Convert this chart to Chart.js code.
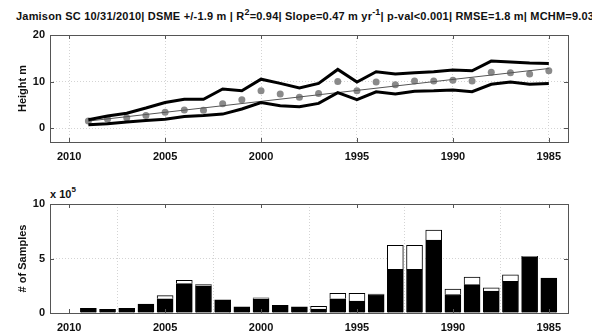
<!DOCTYPE html>
<html>
<head>
<meta charset="utf-8">
<script src="https://cdn.jsdelivr.net/npm/chart.js@4/dist/chart.umd.min.js"></script>
<style>
  body { margin: 0; background: #fff; width: 592px; height: 332px; overflow: hidden; position: relative; font-family: "Liberation Sans", Arial, sans-serif; }
  #title { position: absolute; left: 16px; top: 10px; white-space: nowrap; font-weight: bold; font-size: 11px; letter-spacing: 0.2px; color: #111; }
  #title sup { font-size: 9px; vertical-align: 5px; line-height: 0; }
  #expo { position: absolute; left: 50px; top: 188px; font-weight: bold; font-size: 11px; color: #111; }
  #expo sup { font-size: 8px; vertical-align: 6px; line-height: 0; }
  canvas { position: absolute; left: 0; }
</style>
</head>
<body>
<div id="title">Jamison SC 10/31/2010| DSME +/-1.9 m | R<sup>2</sup>=0.94| Slope=0.47 m yr<sup>-1</sup>| p-val&lt;0.001| RMSE=1.8 m| MCHM=9.03 m</div>
<div id="expo">x 10<sup>5</sup></div>
<canvas id="heightChart" width="592" height="180" style="top:0"></canvas>
<canvas id="sampleChart" width="592" height="152" style="top:180px"></canvas>
<script>
// years on x-axis (axis runs backwards, 2011 -> 1984)
const years = [2009, 2008, 2007, 2006, 2005, 2004, 2003, 2002, 2001, 2000, 1999, 1998, 1997,
               1996, 1995, 1994, 1993, 1992, 1991, 1990, 1989, 1988, 1987, 1986, 1985];
const yearTicks = [2010, 2005, 2000, 1995, 1990, 1985];

// canopy height, m
const upperHeight = [1.8, 2.6, 3.2, 4.3, 5.5, 6.2, 6.2, 8.4, 8.0, 10.5, 9.6, 8.6, 9.6,
                     12.6, 9.9, 12.1, 11.6, 11.9, 12.1, 12.5, 12.3, 14.4, 14.2, 14.0, 13.9];
const meanHeight  = [1.5, 1.9, 2.2, 2.7, 3.4, 3.9, 3.8, 5.2, 6.1, 8.0, 7.3, 6.6, 7.4,
                     10.0, 8.0, 9.9, 9.3, 10.1, 10.1, 10.3, 10.1, 12.0, 11.9, 11.6, 12.3];
const lowerHeight = [0.7, 0.9, 1.3, 1.6, 1.9, 2.5, 2.7, 3.0, 4.1, 5.5, 4.8, 4.6, 5.3,
                     7.6, 6.1, 7.8, 7.3, 7.9, 8.0, 8.2, 7.8, 9.4, 9.9, 9.4, 9.6];
const fitYears = [2009, 1985];
const fitHeight = [1.5, 12.8];
const heightTicks = [0, 10, 20];

// number of samples, x 10^5
const blackSamples = [0.43, 0.34, 0.43, 0.81, 1.3, 2.7, 2.5, 1.2, 0.56, 1.3, 0.71, 0.56, 0.37,
                      1.3, 1.1, 1.7, 4.0, 4.0, 6.7, 1.7, 2.6, 2.0, 2.9, 5.1, 3.2];
const totalSamples = [0.43, 0.34, 0.43, 0.81, 1.6, 3.0, 2.6, 1.2, 0.56, 1.4, 0.71, 0.56, 0.62,
                      1.8, 1.8, 1.74, 6.2, 6.2, 7.6, 2.2, 3.3, 2.3, 3.5, 5.2, 3.2];
const sampleTicks = [0, 5, 10];

const tickFont = { family: '"Liberation Sans", Arial, sans-serif', size: 11, weight: 'bold' };

// draws the full axes box and MATLAB-style inward ticks
const boxPlugin = {
    id: 'box',
    afterDraw(chart) {
        const { ctx, chartArea: a } = chart;
        const xs = chart.scales.x, ys = chart.scales.y;
        ctx.save();
        ctx.strokeStyle = '#555';
        ctx.lineWidth = 1;
        ctx.strokeRect(a.left + 0.5, a.top + 0.5, a.right - a.left, a.bottom - a.top);
        ctx.beginPath();
        xs.ticks.forEach(t => {
            const px = Math.round(xs.getPixelForValue(t.value)) + 0.5;
            ctx.moveTo(px, a.bottom); ctx.lineTo(px, a.bottom - 4);
            ctx.moveTo(px, a.top); ctx.lineTo(px, a.top + 4);
        });
        ys.ticks.forEach(t => {
            const py = Math.round(ys.getPixelForValue(t.value)) + 0.5;
            ctx.moveTo(a.left, py); ctx.lineTo(a.left + 4, py);
            ctx.moveTo(a.right, py); ctx.lineTo(a.right - 4, py);
        });
        ctx.stroke();
        ctx.restore();
    }
};

function xAxis(height) {
    return {
        type: 'linear', reverse: true, min: 1984, max: 2011, offset: false,
        afterBuildTicks: s => { s.ticks = yearTicks.map(v => ({ value: v })); },
        afterFit: s => { s.height = height; },
        grid: { color: '#d4d4d4', drawTicks: false },
        border: { display: false, dash: [1, 2] },
        ticks: { font: tickFont, color: '#111', padding: 8, maxRotation: 0, callback: v => String(v) }
    };
}

function yAxis(min, max, tickList, label) {
    return {
        min: min, max: max,
        afterBuildTicks: s => { s.ticks = tickList.map(v => ({ value: v })); },
        afterFit: s => { s.width = 50; },
        grid: { color: '#d4d4d4', drawTicks: false },
        border: { display: false, dash: [1, 2] },
        ticks: { font: tickFont, color: '#111', padding: 5, callback: v => String(v) },
        title: { display: true, text: label, font: tickFont, color: '#111', padding: { top: 16, bottom: 0 } }
    };
}

const pts = vals => years.map((yr, i) => ({ x: yr, y: vals[i] }));

new Chart(document.getElementById('heightChart').getContext('2d'), {
    type: 'line',
    data: {
        datasets: [
            { data: pts(upperHeight), borderColor: '#000', borderWidth: 3, pointRadius: 0, tension: 0 },
            { data: pts(lowerHeight), borderColor: '#000', borderWidth: 3, pointRadius: 0, tension: 0 },
            { data: fitYears.map((yr, i) => ({ x: yr, y: fitHeight[i] })), borderColor: '#555', borderWidth: 1, pointRadius: 0 },
            { data: pts(meanHeight), showLine: false, pointRadius: 3.5, pointBackgroundColor: '#8a8a8a', pointBorderWidth: 0 }
        ]
    },
    options: {
        responsive: false, animation: false,
        layout: { padding: { left: 0, top: 35, right: 24, bottom: 0 } },
        plugins: { legend: { display: false }, tooltip: { enabled: false } },
        scales: { x: xAxis(38), y: yAxis(-3, 20, heightTicks, 'Height m') }
    },
    plugins: [boxPlugin]
});

new Chart(document.getElementById('sampleChart').getContext('2d'), {
    type: 'bar',
    data: {
        datasets: [
            { data: pts(blackSamples), backgroundColor: '#000', borderColor: '#000', borderWidth: 1, barThickness: 16 },
            { data: years.map((yr, i) => ({ x: yr, y: totalSamples[i] - blackSamples[i] })),
              backgroundColor: '#fff', borderColor: '#000', borderWidth: 1, barThickness: 16 }
        ]
    },
    options: {
        responsive: false, animation: false,
        layout: { padding: { left: 0, top: 24, right: 24, bottom: 0 } },
        plugins: { legend: { display: false }, tooltip: { enabled: false } },
        scales: {
            x: Object.assign(xAxis(19), { stacked: true }),
            y: Object.assign(yAxis(0, 10, sampleTicks, '# of Samples'), { stacked: true })
        }
    },
    plugins: [boxPlugin]
});
</script>
</body>
</html>
